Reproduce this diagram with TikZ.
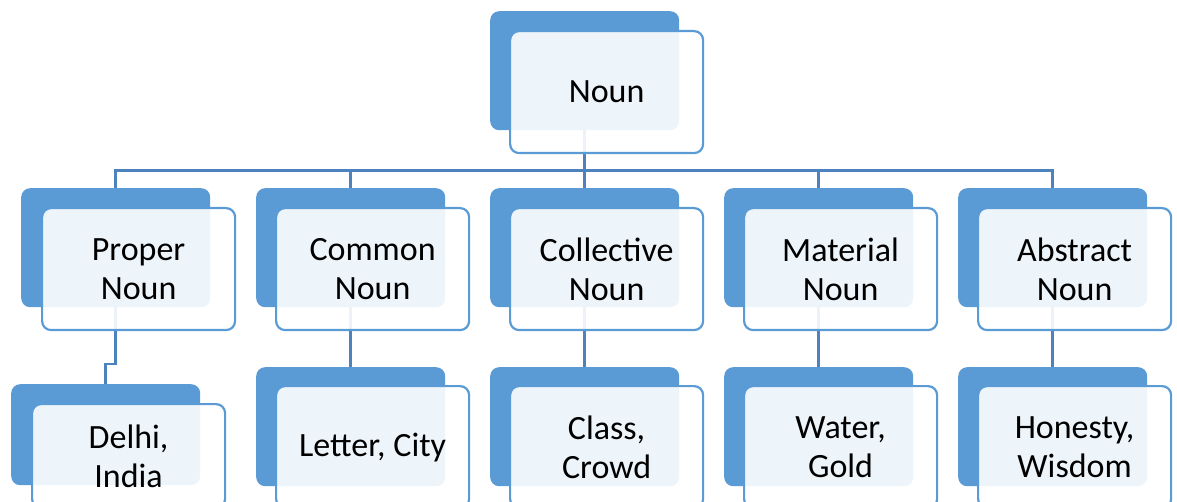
\documentclass[tikz,border=0pt]{standalone}
\usepackage{fontspec}
\setmainfont{Carlito}
\usetikzlibrary{positioning}
\definecolor{nounblue}{HTML}{5B9BD5}
\definecolor{linkblue}{HTML}{4E82BE}
\tikzset{
	backbox/.style={rectangle, rounded corners=9pt, fill=nounblue, inner sep=0pt,
		minimum width=189pt, minimum height=119pt, anchor=north west},
	frontbox/.style={rectangle, rounded corners=9pt, draw=nounblue, line width=2.2pt,
		fill=white, fill opacity=0.9, text opacity=1, inner sep=0pt,
		minimum width=193pt, minimum height=122pt, align=center,
		font=\fontsize{34}{39}\selectfont},
	link/.style={draw=linkblue, line width=2.6pt}
}
\begin{document}
\begin{tikzpicture}[x=1pt,y=-1pt]
				\useasboundingbox (0,0) rectangle (1177,502);
				% back boxes
				\node[backbox] (bk-noun) at (490,11) {};
				\node[backbox] (bk-proper) at (21,188) {};
				\node[backbox] (bk-common) at (256,188) {};
				\node[backbox] (bk-collective) at (490,188) {};
				\node[backbox] (bk-material) at (724,188) {};
				\node[backbox] (bk-abstract) at (958,188) {};
				\node[backbox, minimum height=101pt] (bk-delhi) at (11,384) {};
				\node[backbox] (bk-letter) at (256,367) {};
				\node[backbox] (bk-class) at (490,367) {};
				\node[backbox] (bk-water) at (724,367) {};
				\node[backbox] (bk-honesty) at (958,367) {};
				% connectors
				\coordinate (bus) at ([yshift=-40pt]bk-noun.south);
				\draw[link] (bk-noun.south) -- (bus);
				\draw[link] (bus) -| (bk-proper.north);
				\draw[link] (bus) -| (bk-common.north);
				\draw[link] (bus) -- (bk-collective.north);
				\draw[link] (bus) -| (bk-material.north);
				\draw[link] (bus) -| (bk-abstract.north);
				\draw[link] (bk-proper.south) |- ([yshift=20pt]bk-delhi.north) -- (bk-delhi.north);
				\draw[link] (bk-common.south) -- (bk-letter.north);
				\draw[link] (bk-collective.south) -- (bk-class.north);
				\draw[link] (bk-material.south) -- (bk-water.north);
				\draw[link] (bk-abstract.south) -- (bk-honesty.north);
				% front boxes
				\node[frontbox, below right=19pt and 19pt of bk-noun.north west] (noun) {Noun};
				\node[frontbox, below right=19pt and 20pt of bk-proper.north west] (proper) {Proper\\Noun};
				\node[frontbox, below right=19pt and 19pt of bk-common.north west] (common) {Common\\Noun};
				\node[frontbox, below right=19pt and 19pt of bk-collective.north west] (collective) {Collective\\Noun};
				\node[frontbox, below right=19pt and 19pt of bk-material.north west] (material) {Material\\Noun};
				\node[frontbox, below right=19pt and 19pt of bk-abstract.north west] (abstract) {Abstract\\Noun};
				\node[frontbox, minimum height=104pt, below right=19pt and 20pt of bk-delhi.north west] (delhi) {Delhi,\\India};
				\node[frontbox, below right=18pt and 19pt of bk-letter.north west] (letter) {Letter, City};
				\node[frontbox, below right=18pt and 19pt of bk-class.north west] (class) {Class,\\Crowd};
				\node[frontbox, below right=18pt and 19pt of bk-water.north west] (water) {Water,\\Gold};
				\node[frontbox, below right=18pt and 19pt of bk-honesty.north west] (honesty) {Honesty,\\Wisdom};
				\end{tikzpicture}
\end{document}
